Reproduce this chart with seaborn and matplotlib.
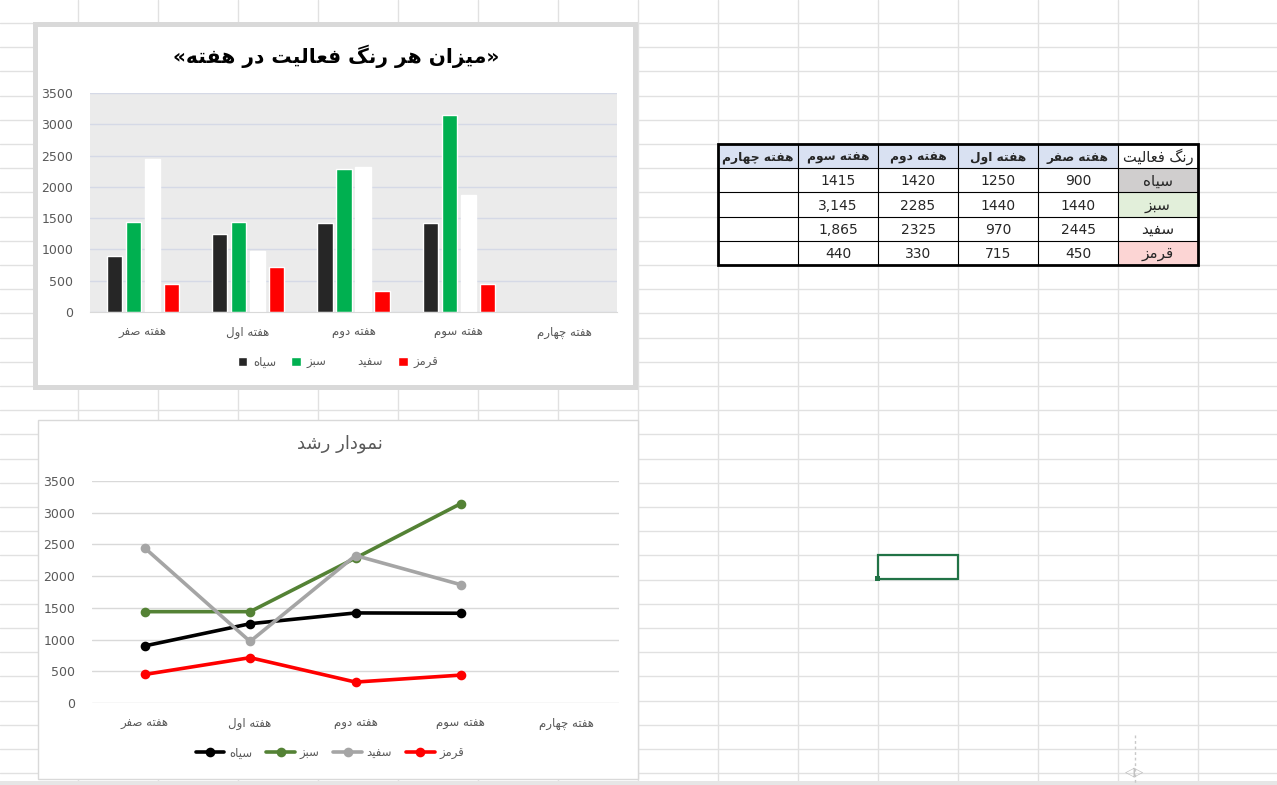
import matplotlib
matplotlib.use("Agg")
import matplotlib.pyplot as plt
from matplotlib.patches import Rectangle
import pandas as pd
import seaborn as sns

# data read from the sheet
weeks = ["هفته صفر", "هفته اول", "هفته دوم", "هفته سوم", "هفته چهارم"]
colors = ["سیاه", "سبز", "سفید", "قرمز"]
black_vals = [900, 1250, 1420, 1415]
green_vals = [1440, 1440, 2285, 3145]
white_vals = [2445, 970, 2325, 1865]
red_vals = [450, 715, 330, 440]
yticks = [0, 500, 1000, 1500, 2000, 2500, 3000, 3500]

title_bar = "«میزان هر رنگ فعالیت در هفته»"
title_line = "نمودار رشد"
table_corner = "رنگ فعالیت"

bar_palette = ["#262626", "#00b050", "#ffffff", "#ff0000"]
line_palette = ["#000000", "#548235", "#a5a5a5", "#ff0000"]
row_fills = ["#d0cece", "#e2efda", "#ffffff", "#fcd5d4"]

# --- tiny arabic shaper (matplotlib has no RTL / joining support) ---
# isolated, final, initial, medial
FORMS = {
    "\u0627": ("\uFE8D", "\uFE8E", None, None),
    "\u0628": ("\uFE8F", "\uFE90", "\uFE91", "\uFE92"),
    "\u062A": ("\uFE95", "\uFE96", "\uFE97", "\uFE98"),
    "\u062F": ("\uFEA9", "\uFEAA", None, None),
    "\u0631": ("\uFEAD", "\uFEAE", None, None),
    "\u0632": ("\uFEAF", "\uFEB0", None, None),
    "\u0633": ("\uFEB1", "\uFEB2", "\uFEB3", "\uFEB4"),
    "\u0634": ("\uFEB5", "\uFEB6", "\uFEB7", "\uFEB8"),
    "\u0635": ("\uFEB9", "\uFEBA", "\uFEBB", "\uFEBC"),
    "\u0639": ("\uFEC9", "\uFECA", "\uFECB", "\uFECC"),
    "\u0641": ("\uFED1", "\uFED2", "\uFED3", "\uFED4"),
    "\u0642": ("\uFED5", "\uFED6", "\uFED7", "\uFED8"),
    "\u0644": ("\uFEDD", "\uFEDE", "\uFEDF", "\uFEE0"),
    "\u0645": ("\uFEE1", "\uFEE2", "\uFEE3", "\uFEE4"),
    "\u0646": ("\uFEE5", "\uFEE6", "\uFEE7", "\uFEE8"),
    "\u0647": ("\uFEE9", "\uFEEA", "\uFEEB", "\uFEEC"),
    "\u0648": ("\uFEED", "\uFEEE", None, None),
    "\u06CC": ("\uFBFC", "\uFBFD", "\uFBFE", "\uFBFF"),
    "\u06AF": ("\uFB92", "\uFB93", "\uFB94", "\uFB95"),
    "\u0686": ("\uFB7A", "\uFB7B", "\uFB7C", "\uFB7D"),
}


def rtl(text):
    out = []
    for i, ch in enumerate(text):
        f = FORMS.get(ch)
        if f is None:
            out.append(ch)
            continue
        prev = text[i - 1] if i > 0 else ""
        nxt = text[i + 1] if i < len(text) - 1 else ""
        jp = prev in FORMS and FORMS[prev][2] is not None
        jn = f[2] is not None and nxt in FORMS
        if jp and jn:
            out.append(f[3])
        elif jp:
            out.append(f[1])
        elif jn:
            out.append(f[2])
        else:
            out.append(f[0])
    vis = "".join(reversed(out))
    return vis.translate(str.maketrans("«»", "»«"))


series = [black_vals, green_vals, white_vals, red_vals]
rows = []
for c, vals in zip(colors, series):
    for w, v in zip(weeks, vals):
        rows.append({"week": w, "color": c, "value": v})
df = pd.DataFrame(rows)

sns.set_style("white")
plt.rcParams["font.family"] = ["DejaVu Sans"]

W, H = 1277, 785
fig = plt.figure(figsize=(W / 100, H / 100), dpi=100)

# spreadsheet background
sheet = fig.add_axes([0, 0, 1, 1])
sheet.set_xlim(0, W)
sheet.set_ylim(H, 0)
sheet.axis("off")
for k in range(17):
    sheet.axvline(78 + 80 * k, color="#e1e1e1", lw=1, zorder=1)
for k in range(-1, 33):
    sheet.axhline(23 + 24.2 * k, color="#e1e1e1", lw=1, zorder=1)
sheet.add_patch(Rectangle((0, 781), W, 4, color="#e6e6e6", lw=0, zorder=2))

# chart frames
sheet.add_patch(Rectangle((33, 22), 605, 368, facecolor="#d9d9d9", lw=0, zorder=3))
sheet.add_patch(Rectangle((38, 27), 595, 358, facecolor="white", lw=0, zorder=3))
sheet.add_patch(Rectangle((38, 420), 600, 359, facecolor="white",
                          edgecolor="#d9d9d9", lw=1, zorder=3))

# table
col_edges = [718 + 80 * i for i in range(7)]
row_edges = [23 + 24.2 * (5 + j) for j in range(6)]
header_fill = "#d9e1f2"
sheet.add_patch(Rectangle((col_edges[0], row_edges[0]), 480, row_edges[-1] - row_edges[0],
                          facecolor="white", lw=0, zorder=3))
for i, w in enumerate(weeks):
    x0 = col_edges[4 - i]
    sheet.add_patch(Rectangle((x0, row_edges[0]), 80, row_edges[1] - row_edges[0],
                              facecolor=header_fill, lw=0, zorder=3))
    sheet.text(x0 + 40, (row_edges[0] + row_edges[1]) / 2 + 1, rtl(w),
               ha="center", va="center", fontsize=8.8, fontweight="bold", zorder=5)
sheet.text(col_edges[5] + 40, (row_edges[0] + row_edges[1]) / 2 + 1, rtl(table_corner),
           ha="center", va="center", fontsize=10.5, zorder=5)
for j, (c, vals) in enumerate(zip(colors, series)):
    y0, y1 = row_edges[j + 1], row_edges[j + 2]
    sheet.add_patch(Rectangle((col_edges[5], y0), 80, y1 - y0,
                              facecolor=row_fills[j], lw=0, zorder=3))
    sheet.text(col_edges[5] + 40, (y0 + y1) / 2 + 1, rtl(c),
               ha="center", va="center", fontsize=11, zorder=5)
    for i, v in enumerate(vals):
        txt = f"{v:,}" if (i == 3 and v >= 1000 and j in (1, 2)) else str(v)
        sheet.text(col_edges[4 - i] + 40, (y0 + y1) / 2 + 1, txt,
                   ha="center", va="center", fontsize=10, zorder=5)
for x in col_edges[1:-1]:
    sheet.plot([x, x], [row_edges[0], row_edges[-1]], color="black", lw=0.8, zorder=4)
for y in row_edges[1:-1]:
    sheet.plot([col_edges[0], col_edges[-1]], [y, y], color="black", lw=0.8, zorder=4)
sheet.add_patch(Rectangle((col_edges[0], row_edges[0]), 480, row_edges[-1] - row_edges[0],
                          fill=False, edgecolor="black", lw=2, zorder=4))

# selected cell
sheet.add_patch(Rectangle((878, 555), 80, 24, fill=False, edgecolor="#217346",
                          lw=1.6, zorder=4))
sheet.add_patch(Rectangle((875, 576), 5, 5, facecolor="#217346", lw=0, zorder=5))
sheet.plot([1135, 1135], [735, 785], color="#c8c8c8", lw=1, ls=(0, (2, 2)), zorder=4)
sheet.text(1135, 772, "\u25C1\u25B7", ha="center", va="center",
           fontsize=9, color="#bfbfbf", zorder=5)


def px_axes(left, top, right, bottom):
    return fig.add_axes([left / W, 1 - bottom / H, (right - left) / W, (bottom - top) / H])


# ---- bar chart ----
ax1 = px_axes(90, 93, 617, 312)
sns.barplot(data=df, x="week", y="value", hue="color", order=weeks,
            hue_order=colors, palette=bar_palette, width=0.72, gap=0.2,
            saturation=1, errorbar=None, ax=ax1)
ax1.set_facecolor("#ebebeb")
ax1.set_ylim(0, 3500)
ax1.set_yticks(yticks)
ax1.grid(axis="y", color="#d5d9e6", lw=1)
ax1.set_axisbelow(True)
for s in ["top", "left", "right"]:
    ax1.spines[s].set_visible(False)
ax1.spines["bottom"].set_color("#d9d9d9")
ax1.set_xlabel("")
ax1.set_ylabel("")
ax1.set_xticks(range(len(weeks)))
ax1.set_xticklabels([rtl(w) for w in weeks])
ax1.tick_params(axis="y", length=0, pad=12, labelsize=9, labelcolor="#595959")
ax1.tick_params(axis="x", length=0, pad=10, labelsize=8.5, labelcolor="#595959")
h, l = ax1.get_legend_handles_labels()
ax1.legend(h, [rtl(x) for x in l], loc="center", bbox_to_anchor=(338 / W, 1 - 362 / H),
           bbox_transform=fig.transFigure, ncol=4, frameon=False, fontsize=8.5,
           handlelength=0.8, handleheight=0.8, handletextpad=0.5,
           columnspacing=1.3, labelcolor="#595959")
fig.text(336 / W, 1 - 56 / H, rtl(title_bar), ha="center", va="center",
         fontsize=14.5, fontweight="bold", color="black")

# ---- line chart ----
ax2 = px_axes(92, 481, 619, 703)
sns.pointplot(data=df, x="week", y="value", hue="color", order=weeks,
              hue_order=colors, palette=line_palette, errorbar=None,
              markers="o", linestyles="-", linewidth=2.6, markersize=5, ax=ax2)
ax2.set_facecolor("white")
ax2.set_ylim(0, 3500)
ax2.set_xlim(-0.5, 4.5)
ax2.set_yticks(yticks)
ax2.grid(axis="y", color="#d9d9d9", lw=1)
ax2.set_axisbelow(True)
for s in ["top", "left", "right", "bottom"]:
    ax2.spines[s].set_visible(False)
ax2.set_xlabel("")
ax2.set_ylabel("")
ax2.set_xticks(range(len(weeks)))
ax2.set_xticklabels([rtl(w) for w in weeks])
ax2.tick_params(axis="y", length=0, pad=12, labelsize=9, labelcolor="#595959")
ax2.tick_params(axis="x", length=0, pad=10, labelsize=8.5, labelcolor="#595959")
h, l = ax2.get_legend_handles_labels()
ax2.legend(h, [rtl(x) for x in l], loc="center", bbox_to_anchor=(330 / W, 1 - 753 / H),
           bbox_transform=fig.transFigure, ncol=4, frameon=False, fontsize=8.5,
           handlelength=2.4, handletextpad=0.4, columnspacing=1.2,
           labelcolor="#595959")
fig.text(340 / W, 1 - 444 / H, rtl(title_line), ha="center", va="center",
         fontsize=13, color="#595959")

fig.savefig("out.png", dpi=100)
